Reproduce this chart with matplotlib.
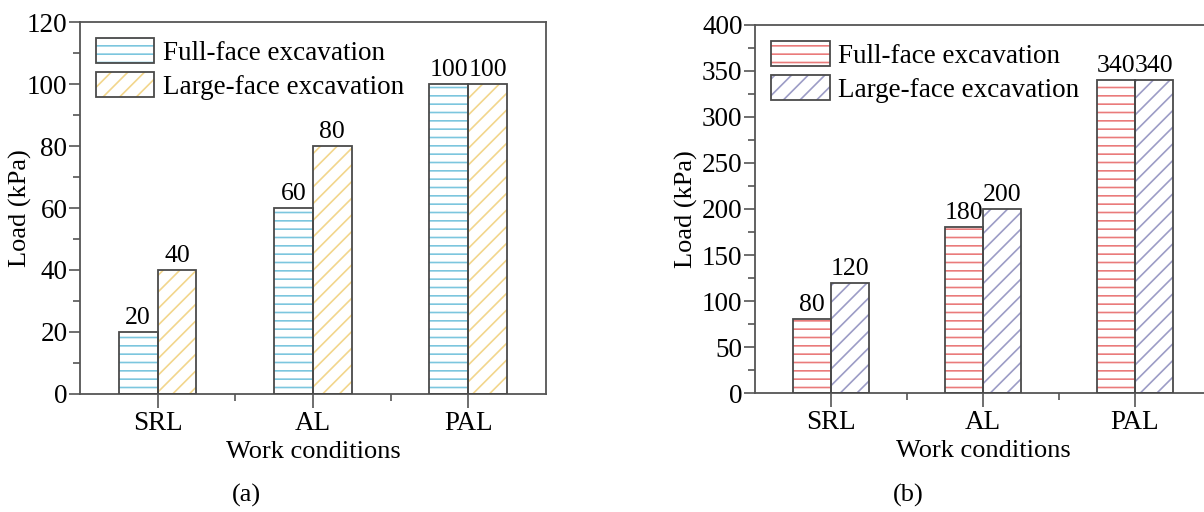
import numpy as np
import matplotlib
matplotlib.use("Agg")
import matplotlib.pyplot as plt
from matplotlib.patches import Patch
from matplotlib.legend_handler import HandlerTuple
from matplotlib.ticker import MultipleLocator, FixedLocator

plt.rcParams['font.family'] = ['Liberation Serif', 'DejaVu Serif']
plt.rcParams['hatch.linewidth'] = 1.2

conditions = ['SRL', 'AL', 'PAL']
series_names = ['Full-face excavation', 'Large-face excavation']

# panel (a)
load_a_full = [20, 60, 100]
load_a_large = [40, 80, 100]
# panel (b)
load_b_full = [80, 180, 340]
load_b_large = [120, 200, 340]

EDGE = '#4a4a4a'
SPINE = '#555555'


def draw_panel(ax, full, large, colors, ymax, ystep, ylab_x):
    x = np.arange(len(conditions))
    w = 0.25
    handles = []
    for vals, off, col, hatch in [(full, -w / 2, colors[0], '--'),
                                  (large, w / 2, colors[1], '//')]:
        # hatch fill first, then a dark outline on top
        ax.bar(x + off, vals, w, facecolor='white', edgecolor=col,
               hatch=hatch, linewidth=0, zorder=2)
        ax.bar(x + off, vals, w, fill=False, edgecolor=EDGE,
               linewidth=1.3, zorder=3)
        for xi, v in zip(x + off, vals):
            ax.text(xi, v + ymax * 0.008, f'{v}', ha='center', va='bottom',
                    fontsize=18.5, zorder=4)
        handles.append((Patch(facecolor='white', edgecolor=col, hatch=hatch, linewidth=0),
                        Patch(fill=False, edgecolor=EDGE, linewidth=1.3)))

    ax.set_xlim(-0.5, 2.5)
    ax.set_ylim(0, ymax)
    ax.yaxis.set_major_locator(MultipleLocator(ystep))
    ax.yaxis.set_minor_locator(MultipleLocator(ystep / 2))
    ax.set_xticks(x)
    ax.set_xticklabels(conditions)
    ax.xaxis.set_minor_locator(FixedLocator([0.5, 1.5]))
    ax.tick_params(axis='both', which='major', direction='out', length=8,
                   width=1.2, color=SPINE, labelsize=19.5, pad=1)
    ax.tick_params(axis='both', which='minor', direction='out', length=5,
                   width=1.2, color=SPINE)
    ax.tick_params(axis='x', which='major', length=10, pad=2)
    for s in ax.spines.values():
        s.set_color(SPINE)
        s.set_linewidth(1.3)
    ax.set_xlabel('Work conditions', fontsize=19, labelpad=3.5)
    ax.set_ylabel('Load (kPa)', fontsize=19, va='center')
    ax.yaxis.set_label_coords(ylab_x, 0.5)
    ax.legend(handles, series_names, handler_map={tuple: HandlerTuple(ndivide=1)},
              loc='upper left', bbox_to_anchor=(0.0, 1.0), frameon=False,
              fontsize=19.5, handlelength=2.15, handleheight=1.05,
              handletextpad=0.3, labelspacing=0.22, borderaxespad=0.4,
              borderpad=0.2)


fig = plt.figure(figsize=(12.04, 5.12), dpi=100)
ax_a = fig.add_axes([0.0664, 0.2305, 0.3870, 0.7265])
ax_b = fig.add_axes([0.6271, 0.2324, 0.3787, 0.7188])

draw_panel(ax_a, load_a_full, load_a_large, ['#7cc6de', '#f2d68c'], 120, 20, -0.128)
draw_panel(ax_b, load_b_full, load_b_large, ['#ea7b7b', '#9c9cc6'], 400, 50, -0.15)

fig.text(0.205, 0.033, '(a)', ha='center', va='center', fontsize=19)
fig.text(0.754, 0.033, '(b)', ha='center', va='center', fontsize=19)

fig.savefig('out.png', dpi=100)
